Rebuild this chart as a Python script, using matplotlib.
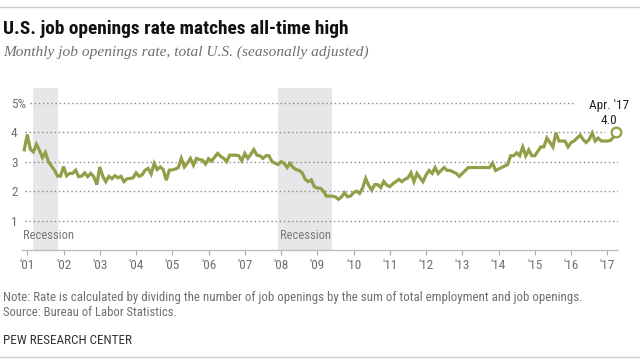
import matplotlib
matplotlib.use("Agg")
import matplotlib.pyplot as plt
import matplotlib.font_manager as fm
from matplotlib.lines import Line2D

# ---------------- data ----------------
start_year, start_month = 2000, 12
rate_2000 = [3.4]
rate_2001 = [3.92, 3.42, 3.33, 3.59, 3.39, 3.14, 3.31, 3.0, 2.85, 2.71, 2.51, 2.51]
rate_2002 = [2.83, 2.52, 2.6, 2.6, 2.71, 2.49, 2.51, 2.62, 2.49, 2.6, 2.49, 2.22]
rate_2003 = [2.82, 2.5, 2.32, 2.5, 2.42, 2.52, 2.45, 2.5, 2.32, 2.42, 2.43, 2.45]
rate_2004 = [2.62, 2.5, 2.55, 2.71, 2.77, 2.58, 2.94, 2.73, 2.82, 2.73, 2.37, 2.71]
rate_2005 = [2.72, 2.75, 2.8, 3.11, 2.82, 2.95, 3.11, 2.88, 3.11, 3.07, 3.05, 2.92]
rate_2006 = [3.1, 3.02, 3.15, 3.28, 3.18, 3.11, 3.0, 3.22, 3.22, 3.22, 3.2, 3.03]
rate_2007 = [3.28, 3.11, 3.25, 3.41, 3.22, 3.2, 3.11, 3.2, 3.2, 3.0, 2.95, 2.9]
rate_2008 = [3.0, 2.95, 2.8, 2.94, 2.8, 2.73, 2.7, 2.62, 2.4, 2.32, 2.38, 2.15]
rate_2009 = [2.1, 2.1, 2.0, 1.83, 1.83, 1.83, 1.8, 1.72, 1.8, 1.94, 1.81, 1.83]
rate_2010 = [1.95, 2.0, 1.92, 2.1, 2.43, 2.2, 2.03, 2.22, 2.22, 2.12, 2.33, 2.2]
rate_2011 = [2.15, 2.25, 2.32, 2.4, 2.32, 2.4, 2.45, 2.62, 2.32, 2.6, 2.45, 2.32]
rate_2012 = [2.55, 2.7, 2.6, 2.8, 2.6, 2.7, 2.8, 2.7, 2.7, 2.65, 2.6, 2.5]
rate_2013 = [2.6, 2.7, 2.8, 2.8, 2.8, 2.8, 2.8, 2.8, 2.8, 2.8, 2.95, 2.7]
rate_2014 = [2.75, 2.8, 2.85, 2.9, 3.2, 3.2, 3.3, 3.2, 3.5, 3.2, 3.4, 3.2]
rate_2015 = [3.2, 3.35, 3.5, 3.5, 3.8, 3.65, 3.5, 3.98, 3.7, 3.7, 3.7, 3.5]
rate_2016 = [3.65, 3.7, 3.8, 3.9, 3.75, 3.65, 3.75, 3.97, 3.7, 3.8, 3.7, 3.7]
rate_2017 = [3.7, 3.72, 3.82, 4.0]

recession_start = [2001 + 2 / 12, 2007 + 11 / 12]   # Mar 2001, Dec 2007
recession_end = [2001 + 10 / 12, 2009 + 5 / 12]     # Nov 2001, Jun 2009
recession_label = ["Recession", "Recession"]

tick_years = list(range(2001, 2018))
tick_labels = ["'%02d" % (y % 100) for y in tick_years]
y_ticks = [1, 2, 3, 4, 5]
y_labels = ["1", "2", "3", "4", "5%"]
last_label = "Apr. '17"

title = "U.S. job openings rate matches all-time high"
subtitle = "Monthly job openings rate, total U.S. (seasonally adjusted)"
note = ("Note: Rate is calculated by dividing the number of job openings by the sum "
        "of total employment and job openings.")
source = "Source: Bureau of Labor Statistics."
credit = "PEW RESEARCH CENTER"

rates = (rate_2000 + rate_2001 + rate_2002 + rate_2003 + rate_2004 + rate_2005 +
         rate_2006 + rate_2007 + rate_2008 + rate_2009 + rate_2010 + rate_2011 +
         rate_2012 + rate_2013 + rate_2014 + rate_2015 + rate_2016 + rate_2017)
dates = [start_year + (start_month - 1 + i) / 12 for i in range(len(rates))]


# ---------------- fonts ----------------
def pick(*names):
    for n in names:
        try:
            fm.findfont(fm.FontProperties(family=n), fallback_to_default=False)
            return n
        except Exception:
            continue
    return "DejaVu Sans"


SANS = pick("Liberation Sans Narrow", "Roboto Condensed", "Roboto", "Liberation Sans")
SERIF = pick("Liberation Serif", "DejaVu Serif")
plt.rcParams["font.family"] = [SANS, "DejaVu Sans"]

W, H = 640, 362
fig = plt.figure(figsize=(W / 100, H / 100), dpi=100)
renderer = fig.canvas.get_renderer()

PX_YEAR = 36.25
X0_PX = 27.3  # pixel of Jan 2001


def px2x(px):
    return 2001 + (px - X0_PX) / PX_YEAR


ax_left, ax_right, ax_top, ax_bot = 22.4, 618, 88, 250
ax = fig.add_axes([ax_left / W, 1 - ax_bot / H, (ax_right - ax_left) / W, (ax_bot - ax_top) / H])
ax.set_xlim(px2x(ax_left), px2x(ax_right))
ax.set_ylim(0, 5.5)

LINE = "#949d48"
GRAY = "#6f6f6f"

# recessions
for s, e in zip(recession_start, recession_end):
    ax.axvspan(s, e, color="#e6e7e8", lw=0, zorder=0)

# gridlines
grid_start = {5: px2x(30)}
grid_end = {5: px2x(575), 4: px2x(605)}
for v in y_ticks:
    ax.hlines(v, grid_start.get(v, px2x(25)), grid_end.get(v, px2x(ax_right)),
              colors="#8a8a8a", linestyles=(0, (1, 2)), lw=1.0, zorder=1)

# line
ax.plot(dates, rates, color=LINE, lw=2.3, solid_joinstyle="miter", zorder=3)
ax.plot([dates[-1]], [rates[-1]], "o", ms=7, mfc="white", mec=LINE, mew=1.6,
        clip_on=False, zorder=4)

ax.annotate("%.1f" % rates[-1], (dates[-1], rates[-1]), xytext=(-7, 12),
            textcoords="offset pixels", ha="center", va="center",
            fontsize=9.5, color="#222222", annotation_clip=False)
ax.annotate(last_label, (dates[-1], rates[-1]), xytext=(-7, 27),
            textcoords="offset pixels", ha="center", va="center",
            fontsize=9.5, color="#222222", annotation_clip=False,
            bbox=dict(boxstyle="square,pad=0.1", fc="white", ec="none"))

# recession labels
rec_x = [px2x(23.3), px2x(280)]
for x, lab in zip(rec_x, recession_label):
    t = ax.text(x, 0.49, lab, ha="left", va="center", color="#7a7a7a", fontsize=9.5)
    w = t.get_window_extent(renderer).width
    t.set_fontsize(9.5 * 50.7 / w)

# axes styling
for side in ["top", "right", "left"]:
    ax.spines[side].set_visible(False)
ax.spines["bottom"].set_color("#bdbdbd")
ax.spines["bottom"].set_linewidth(1.0)
ax.set_xticks(tick_years)
ax.set_xticklabels(tick_labels)
ax.tick_params(axis="x", length=3.5, width=0.8, color="#aaaaaa", pad=3,
               labelsize=9.5, labelcolor=GRAY)
ax.set_yticks(y_ticks)
ax.set_yticklabels(y_labels)
ax.tick_params(axis="y", length=0, pad=(ax_left - 11) * 0.72, labelsize=9.5,
               labelcolor=GRAY)
for lab in ax.get_yticklabels():
    lab.set_horizontalalignment("left")


# ---------------- texts ----------------
def fit_text(x_px, y_px, s, target_w, size, **kw):
    t = fig.text(x_px / W, 1 - y_px / H, s, **kw, fontsize=size)
    w = t.get_window_extent(renderer).width
    t.set_fontsize(size * target_w / w)
    return t


fit_text(3, 33.5, title, 345, 13, fontweight="bold", color="#111111",
         va="baseline", ha="left")
fit_text(3, 55.5, subtitle, 365, 11, family=[SERIF, "DejaVu Serif"], style="italic",
         color=GRAY, va="baseline", ha="left")
fit_text(3, 297, note, 575, 8, color=GRAY, va="center", ha="left")
fit_text(3, 313, source, 173, 8, color=GRAY, va="center", ha="left")
fit_text(3, 340, credit, 129, 8, color="#333333", va="center", ha="left")

fig.add_artist(Line2D([0, 1], [1 - 7 / H, 1 - 7 / H], color="#cccccc", lw=1))
fig.add_artist(Line2D([0, 1], [1 - 357 / H, 1 - 357 / H], color="#cccccc", lw=1))

fig.savefig("out.png", dpi=100)
